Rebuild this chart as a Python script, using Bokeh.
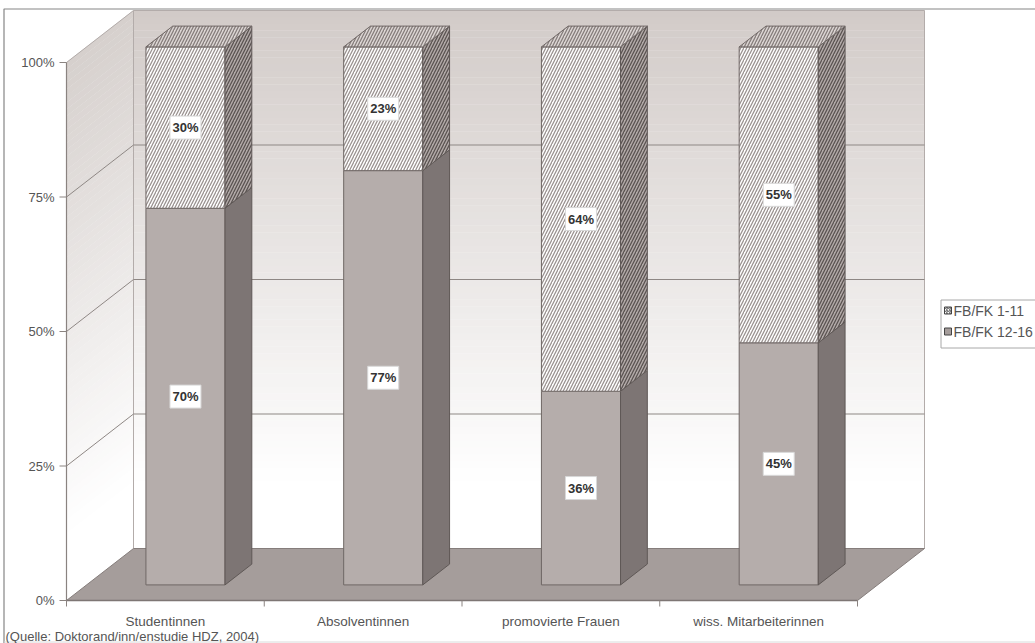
from bokeh.plotting import figure
from bokeh.models import Range1d
from bokeh.core.properties import value
from bokeh.embed import file_html
from bokeh.resources import INLINE

# ---- data -------------------------------------------------------------
categories = ["Studentinnen", "Absolventinnen", "promovierte Frauen", "wiss. Mitarbeiterinnen"]
fb_12_16 = [70, 77, 36, 45]   # lower stack segment (FB/FK 12-16)
fb_1_11 = [30, 23, 64, 55]    # upper stack segment (FB/FK 1-11)
series_names = ["FB/FK 1-11", "FB/FK 12-16"]
y_ticks = [0, 25, 50, 75, 100]
y_tick_labels = ["0%", "25%", "50%", "75%", "100%"]
source_note = "(Quelle: Doktorand/inn/enstudie HDZ, 2004)"

# ---- layout of the oblique 3-D projection ----------------------------
W, H = 1035, 643
ORIGIN_X, ORIGIN_Y = 66, 600   # front plane: category 0 / 0 % in pixels
CAT_PX = 197.75                # pixels per category slot
PCT_PX = 5.38                  # pixels per percentage point
DEPTH_DX, DEPTH_DY = 67, 52    # pixel shift from front plane to back wall
DXC = DEPTH_DX / CAT_PX
DYP = DEPTH_DY / PCT_PX
BAR_FRONT, BAR_BACK = 0.3, 0.7  # bar depth inside the box
BAR_L, BAR_R = 0.3, 0.7         # bar extent inside a category slot
FONT = value("Liberation Sans")
TEXT_GREY = "#555555"
GRID = "#8e8784"
HATCH_SCALE = 6


def proj(x, y, d):
    """category/percent/depth -> data coordinates on screen"""
    return x + d * DXC, y + d * DYP


def px(x):
    return (x - ORIGIN_X) / CAT_PX


def py(y):
    return (ORIGIN_Y - y) / PCT_PX


def poly(pts):
    xs, ys = zip(*[proj(*pt) for pt in pts])
    return list(xs), list(ys)


def mix(c_top, c_bot, t):
    r = [round(b + (a - b) * t) for a, b in zip(c_top, c_bot)]
    return "#%02x%02x%02x" % tuple(r)


n = len(categories)

p = figure(width=W, height=H, output_backend="svg", toolbar_location=None,
           x_axis_type=None, y_axis_type=None, min_border=0,
           x_range=Range1d(px(0), px(W)), y_range=Range1d(py(H), py(0)))
p.outline_line_color = None
p.background_fill_color = "white"
p.border_fill_color = "white"

# outer frame
p.line([px(3.5), px(3.5), px(1040)], [py(643), py(8.5), py(8.5)], line_color="#858585", line_width=1.2)
p.line([px(3.5), px(1040)], [py(641.5), py(641.5)], line_color="#dadada", line_width=1)

# ---- walls with vertical shading --------------------------------------
TOP_C, BOT_C = (210, 203, 200), (255, 255, 255)
N_STRIPS = 80
bw_l, bw_r, bw_b, bw_t, bw_c = [], [], [], [], []
sw_xs, sw_ys, sw_c = [], [], []
for k in range(N_STRIPS):
    y0 = 100 * k / N_STRIPS
    y1 = 100 * (k + 1) / N_STRIPS
    t = max(0.0, min(1.0, ((y0 + y1) / 200 - 0.12) / 0.88))
    col = mix(TOP_C, BOT_C, t)
    bw_l.append(proj(0, 0, 1)[0])
    bw_r.append(proj(n, 0, 1)[0])
    bw_b.append(proj(0, y0, 1)[1])
    bw_t.append(proj(0, y1, 1)[1] + 0.05)
    bw_c.append(col)
    xs, ys = poly([(0, y0, 0), (0, y1 + 0.05, 0), (0, y1 + 0.05, 1), (0, y0, 1)])
    sw_xs.append(xs)
    sw_ys.append(ys)
    sw_c.append(mix((214, 208, 205), BOT_C, t))
p.quad(left=bw_l, right=bw_r, bottom=bw_b, top=bw_t, fill_color=bw_c, line_color=None)
p.patches(sw_xs, sw_ys, fill_color=sw_c, line_color=None)

# wall borders
xs, ys = poly([(0, 0, 1), (0, 100, 1), (n, 100, 1), (n, 0, 1)])
p.line(xs, ys, line_color="#b3acaa", line_width=1)
xs, ys = poly([(0, 100, 0), (0, 100, 1)])
p.line(xs, ys, line_color="#b3acaa", line_width=1)

# gridlines on side and back wall
for t in y_ticks[1:-1]:
    xs, ys = poly([(0, t, 0), (0, t, 1), (n, t, 1)])
    p.line(xs, ys, line_color=GRID, line_width=1)

# floor
xs, ys = poly([(0, 0, 0), (n, 0, 0), (n, 0, 1), (0, 0, 1)])
p.patch(xs, ys, fill_color="#a59d9b", line_color="#857d7b", line_width=1)

# ---- axes ---------------------------------------------------------------
p.line([0, 0], [0, 100], line_color="#8a8380", line_width=1.2)
p.line([0, n], [0, 0], line_color="#7e7674", line_width=1.5)
tick_len_x = 7 / CAT_PX
tick_len_y = 6 / PCT_PX
p.segment(x0=[-tick_len_x] * len(y_ticks), y0=y_ticks, x1=[0] * len(y_ticks), y1=y_ticks,
          line_color="#8a8380", line_width=1)
p.text(x=[px(54)] * len(y_ticks), y=y_ticks, text=y_tick_labels, text_font=FONT,
       text_font_size="13px", text_align="right", text_baseline="middle", text_color=TEXT_GREY)
bounds = list(range(n + 1))
p.segment(x0=bounds, y0=[0] * len(bounds), x1=bounds, y1=[-tick_len_y] * len(bounds),
          line_color="#8a8380", line_width=1)
p.text(x=[i + 0.5 for i in range(n)], y=[py(621)] * n, text=categories, text_font=FONT,
       text_font_size="13.5px", text_align="center", text_baseline="middle", text_color=TEXT_GREY)
p.text(x=[px(5)], y=[py(636)], text=[source_note], text_font=FONT, text_font_size="13px",
       text_align="left", text_baseline="middle", text_color=TEXT_GREY)

# ---- stacked 3-D bars ---------------------------------------------------
lf_xs, lf_ys, ls_xs, ls_ys = [], [], [], []
uf_xs, uf_ys, us_xs, us_ys, tp_xs, tp_ys = [], [], [], [], [], []
for i, (lo, up) in enumerate(zip(fb_12_16, fb_1_11)):
    x0, x1 = i + BAR_L, i + BAR_R
    top = lo + up
    xs, ys = poly([(x0, 0, BAR_FRONT), (x1, 0, BAR_FRONT), (x1, lo, BAR_FRONT), (x0, lo, BAR_FRONT)])
    lf_xs.append(xs); lf_ys.append(ys)
    xs, ys = poly([(x1, 0, BAR_FRONT), (x1, 0, BAR_BACK), (x1, lo, BAR_BACK), (x1, lo, BAR_FRONT)])
    ls_xs.append(xs); ls_ys.append(ys)
    xs, ys = poly([(x0, lo, BAR_FRONT), (x1, lo, BAR_FRONT), (x1, top, BAR_FRONT), (x0, top, BAR_FRONT)])
    uf_xs.append(xs); uf_ys.append(ys)
    xs, ys = poly([(x1, lo, BAR_FRONT), (x1, lo, BAR_BACK), (x1, top, BAR_BACK), (x1, top, BAR_FRONT)])
    us_xs.append(xs); us_ys.append(ys)
    xs, ys = poly([(x0, top, BAR_FRONT), (x1, top, BAR_FRONT), (x1, top, BAR_BACK), (x0, top, BAR_BACK)])
    tp_xs.append(xs); tp_ys.append(ys)

p.patches(lf_xs, lf_ys, fill_color="#b5adab", line_color="#6f6765", line_width=1)
p.patches(ls_xs, ls_ys, fill_color="#7d7574", line_color="#5f5856", line_width=1)
p.patches(uf_xs, uf_ys, fill_color="white", hatch_pattern="/", hatch_color="#9a9290",
          hatch_scale=HATCH_SCALE, hatch_weight=1.3, line_color="#6f6765", line_width=1)
p.patches(us_xs, us_ys, fill_color="#b2aaa8", hatch_pattern="/", hatch_color="#5a5351",
          hatch_scale=HATCH_SCALE, hatch_weight=1.3, line_color="#5f5856", line_width=1)
p.patches(tp_xs, tp_ys, fill_color="#dcd6d4", hatch_pattern="/", hatch_color="#857d7b",
          hatch_scale=HATCH_SCALE, hatch_weight=1.3, line_color="#6f6765", line_width=1)

# value labels on the front faces
lab_x, lab_y, lab_t = [], [], []
for i, (lo, up) in enumerate(zip(fb_12_16, fb_1_11)):
    for mid, v in ((lo / 2, lo), (lo + up / 2, up)):
        x, y = proj(i + 0.5, mid, BAR_FRONT)
        lab_x.append(x); lab_y.append(y); lab_t.append(f"{v}%")
p.rect(x=lab_x, y=lab_y, width=31, height=23, width_units="screen", height_units="screen",
       fill_color="white", line_color="#d8d8d8", line_width=1)
p.text(x=lab_x, y=lab_y, text=lab_t, text_font=FONT, text_font_size="13px",
       text_font_style="bold", text_align="center", text_baseline="middle", text_color="#333333")

# ---- legend -------------------------------------------------------------
p.quad(left=[px(940.5)], right=[px(1045)], top=[py(299.5)], bottom=[py(347.5)],
       fill_color="white", line_color="#a8a8a8", line_width=1)
sw_y = [310, 331]
p.quad(left=[px(944)], right=[px(951)], top=[py(sw_y[0] - 3.5)], bottom=[py(sw_y[0] + 3.5)],
       fill_color="white", hatch_pattern="/", hatch_color="#555555", hatch_scale=3,
       hatch_weight=1, line_color="#444444", line_width=1)
p.quad(left=[px(944)], right=[px(951)], top=[py(sw_y[1] - 3.5)], bottom=[py(sw_y[1] + 3.5)],
       fill_color="#a59d9b", line_color="#444444", line_width=1)
p.text(x=[px(953)] * 2, y=[py(v) for v in sw_y], text=series_names, text_font=FONT,
       text_font_size="14px", text_align="left", text_baseline="middle", text_color=TEXT_GREY)

open("out.html", "w").write(file_html(p, INLINE))
